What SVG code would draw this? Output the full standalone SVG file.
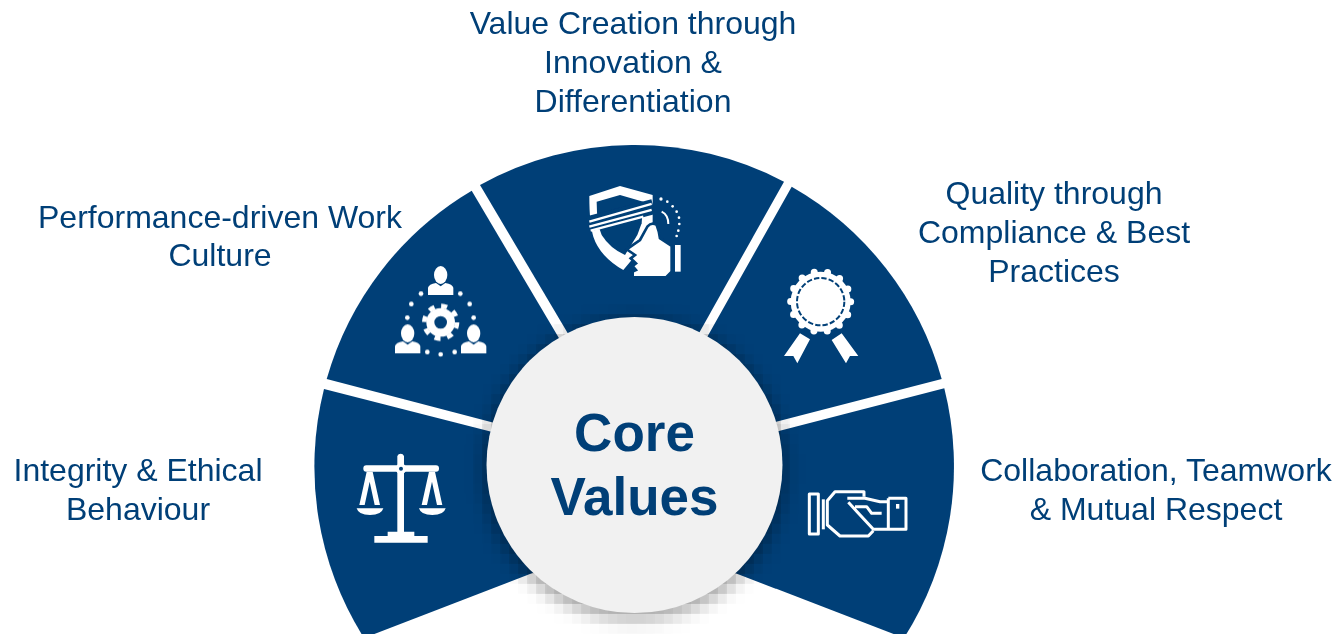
<svg xmlns="http://www.w3.org/2000/svg" width="1337" height="634" viewBox="0 0 1337 634">
<style>
.seg{fill:#003f77}
.lbl{font-family:"Liberation Sans",Arial,sans-serif;font-size:32px;fill:#003f77;text-anchor:middle}
.core{font-family:"Liberation Sans",Arial,sans-serif;font-size:53px;font-weight:bold;fill:#003f77;text-anchor:middle}
.w{fill:#fff}.n{fill:#003f77}
.o{fill:none;stroke:#fff;stroke-width:9;stroke-linejoin:round}
.ic{filter:url(#soft)}
</style>
<defs>
<filter id="soft" x="-10%" y="-10%" width="120%" height="120%"><feGaussianBlur stdDeviation="1.5"/></filter>
<filter id="sh" filterUnits="userSpaceOnUse" x="419.5" y="274" width="430" height="380" color-interpolation-filters="sRGB">
<feGaussianBlur stdDeviation="8" result="b"/>
<feFlood x="423.5" y="278" width="2" height="2" flood-color="#000"/>
<feComposite x="419.5" y="274" width="10" height="10"/>
<feTile x="419.5" y="274" width="430" height="380" result="t"/>
<feComposite in="b" in2="t" operator="in"/>
<feMorphology operator="dilate" radius="4"/>
</filter>
<g id="person"><ellipse cx="0" cy="0" rx="20" ry="27"/><path d="M-38 60V38Q-36 28-14 24L0 34 14 24Q36 28 38 38V60Z"/></g>
</defs>
<rect width="1337" height="634" fill="#fff"/>
<g id="connectors"/>
<g id="seg-integrity"><path class="seg" d="M324 389L520 439 570 558.6 364 638A320 320 0 0 1 324 389Z"/>
<g transform="translate(340 440) scale(.3333)" class="w ic"><path d="M172 85V48a11 11 0 0 1 20 0V275H223V288H263V308H103V288H143V275H172Z"/><rect x="70" y="76" width="227" height="19" rx="9"/><circle cx="183" cy="86" r="16"/><circle cx="183" cy="86" r="6" class="n"/><path d="M80 95L58 195H74L89 125 104 195H120L98 95ZM50 205H130Q125 225 90 225 55 225 50 205Z"/><path d="M267 95L245 195H261L276 125 291 195H307L285 95ZM237 205H317Q312 225 277 225 242 225 237 205Z"/></g></g>
<g id="seg-performance"><path class="seg" d="M326.7 379A320 320 0 0 1 471.7 190.7L566 350 510 427Z"/>
<g transform="translate(340 170) scale(.3333)" class="w ic"><use href="#person" x="302" y="315"/><use href="#person" x="203" y="490"/><use href="#person" x="401" y="490"/>
<circle cx="302" cy="457" r="31" fill="none" stroke="#fff" stroke-width="24"/><circle cx="302" cy="457" r="49" fill="none" stroke="#fff" stroke-width="14" stroke-dasharray="18 20.5"/>
<circle cx="243" cy="371" r="7"/><circle cx="361" cy="371" r="7"/><circle cx="214" cy="402" r="7"/><circle cx="389" cy="402" r="7"/><circle cx="202" cy="443" r="7"/><circle cx="401" cy="443" r="7"/><circle cx="262" cy="546" r="7"/><circle cx="302" cy="553" r="7"/><circle cx="344" cy="546" r="7"/></g></g>
<g id="seg-value"><path class="seg" d="M480 185A320 320 0 0 1 784 181.7L689.5 350H577.7Z"/>
<g transform="translate(560 160) scale(.3333)" class="ic"><path class="w" d="M88 108L180 78 278 105V190L240 240 215 300 190 330Q120 290 100 230 88 190 88 108Z"/><path class="n" d="M110 125L180 105 250 125 245 190 232 225 195 285Q150 265 125 225 110 190 110 125Z"/>
<path d="M84 192L280 140" stroke="#003f77" stroke-width="46" fill="none"/><path d="M88 185L275 132M88 200L275 150M92 212L250 170" stroke="#fff" stroke-width="7" fill="none"/>
<path class="w" stroke="#003f77" stroke-width="8" d="M240 240L262 200Q275 185 290 195 298 215 300 235L335 258V335L318 352H218V335L228 330 218 318 228 310 212 295 225 285 200 268Z"/><rect class="w" x="345" y="255" width="17" height="80"/>
<g class="w"><circle cx="303" cy="117" r="5"/><circle cx="322" cy="125" r="4"/><circle cx="338" cy="139" r="4"/><circle cx="350" cy="155" r="4"/><circle cx="357" cy="173" r="4"/><circle cx="358" cy="192" r="4"/><circle cx="355" cy="212" r="4"/><circle cx="350" cy="228" r="4"/></g><path d="M305 155Q325 165 325 192" fill="none" stroke="#fff" stroke-width="6"/></g></g>
<g id="seg-quality"><path class="seg" d="M791.7 186.7A320 320 0 0 1 941.7 379L750 428.6 699.9 350Z"/>
<g transform="translate(760 250) scale(.3333)" class="w ic"><path d="M120 250L150 268 112 340 100 318 72 318ZM245 250L215 270 258 340 270 318 295 318Z"/><circle cx="182" cy="155" r="90"/><circle cx="182" cy="155" r="90" fill="none" stroke="#fff" stroke-width="21" stroke-linecap="round" stroke-dasharray="0 40.4"/><circle cx="182" cy="155" r="71" fill="none" stroke="#003f77" stroke-width="6" stroke-dasharray="16 6.3"/></g></g>
<g id="seg-collab"><path class="seg" d="M944.3 388.3A320 320 0 0 1 904 638L700 559.5 750 438.5Z"/>
<g transform="translate(790 470) scale(.3333)" class="o ic"><rect x="58" y="72" width="27" height="120"/><path d="M100 88V178"/><path d="M222 80V65H135L112 92V165L150 198H235L250 182"/><path d="M172 85H225L270 95H295M295 85H348V178H295V85M175 97L250 178H295M195 110H230L245 130H275"/><rect x="318" y="102" width="10" height="14" fill="#fff" stroke="none"/></g></g>
<g id="core"><circle cx="634.5" cy="469" r="150" fill="#000" fill-opacity=".34" filter="url(#sh)"/><circle cx="634.5" cy="465" r="148" fill="#f1f1f1"/><text class="core" x="634.5" y="451">Core</text><text class="core" x="634.5" y="515">Values</text></g>
<g id="labels"><text class="lbl" x="633" y="34">Value Creation through</text><text class="lbl" x="633" y="73">Innovation &amp;</text><text class="lbl" x="633" y="112">Differentiation</text>
<text class="lbl" x="220" y="228">Performance-driven Work</text><text class="lbl" x="220" y="266">Culture</text>
<text class="lbl" x="1054" y="204">Quality through</text><text class="lbl" x="1054" y="243">Compliance &amp; Best</text><text class="lbl" x="1054" y="282">Practices</text>
<text class="lbl" x="138" y="481">Integrity &amp; Ethical</text><text class="lbl" x="138" y="520">Behaviour</text>
<text class="lbl" x="1156" y="481">Collaboration, Teamwork</text><text class="lbl" x="1156" y="520">&amp; Mutual Respect</text></g>
</svg>
